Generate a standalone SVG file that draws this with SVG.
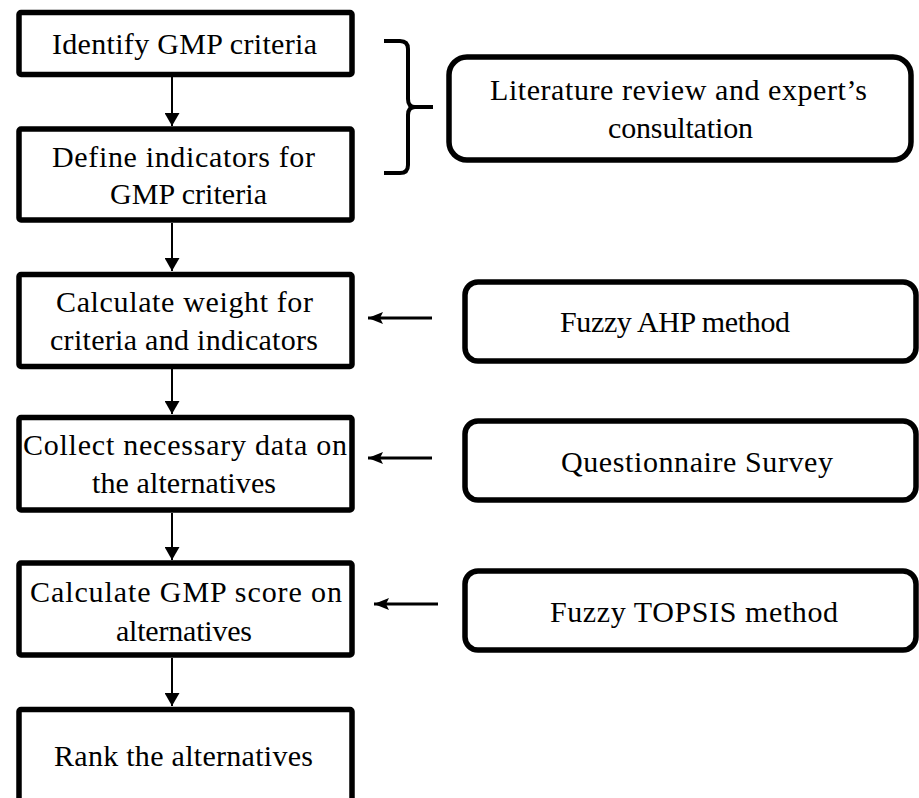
<svg xmlns="http://www.w3.org/2000/svg" width="919" height="798" viewBox="0 0 919 798">
<style>
.box{fill:#fff;stroke:#000;stroke-width:5.5}
.rbox{fill:#fff;stroke:#000;stroke-width:5.5}
.t{font-family:"Liberation Serif","Times New Roman",serif;font-size:30px;fill:#000}
.v{stroke:#000;stroke-width:2;fill:none}
.h{stroke:#000;stroke-width:3;fill:none}
.brace{stroke:#000;stroke-width:4;fill:none;stroke-linejoin:round}
</style>
<defs>
<marker id="ahv" viewBox="0 0 13 15" refX="13" refY="7.5" markerWidth="13" markerHeight="15" orient="auto" markerUnits="userSpaceOnUse"><path d="M0,0 L13,7.5 L0,15 z" fill="#000"/></marker>
<marker id="ahh" viewBox="0 0 15 12" refX="15" refY="6" markerWidth="15" markerHeight="12" orient="auto" markerUnits="userSpaceOnUse"><path d="M0,0 L15,6 L0,12 L3,6 z" fill="#000"/></marker>
</defs>
<rect width="919" height="798" fill="#fff"/>
<g id="n1"><rect class="box" x="19" y="12.5" width="333" height="62" rx="2"/>
<text class="t" x="52" y="54" textLength="265">Identify GMP criteria</text></g>
<g id="n2"><rect class="box" x="19" y="129" width="333" height="91" rx="2"/>
<text class="t" x="52" y="167" textLength="263">Define indicators for</text>
<text class="t" x="110" y="204" textLength="157">GMP criteria</text></g>
<g id="n3"><rect class="box" x="19" y="274.5" width="333" height="92" rx="2"/>
<text class="t" x="56" y="312" textLength="257">Calculate weight for</text>
<text class="t" x="50" y="350" textLength="268">criteria and indicators</text></g>
<g id="n4"><rect class="box" x="19" y="417.5" width="333" height="92.5" rx="2"/>
<text class="t" x="23" y="455" textLength="324">Collect necessary data on</text>
<text class="t" x="92" y="493" textLength="184">the alternatives</text></g>
<g id="n5"><rect class="box" x="19" y="563" width="333" height="92" rx="2"/>
<text class="t" x="30" y="602" textLength="312">Calculate GMP score on</text>
<text class="t" x="116" y="641" textLength="136">alternatives</text></g>
<g id="n6"><rect class="box" x="19" y="709.5" width="333" height="100" rx="2"/>
<text class="t" x="54" y="766" textLength="259">Rank the alternatives</text></g>
<g id="r1"><rect class="rbox" x="449" y="57" width="462" height="103" rx="18"/>
<text class="t" x="490" y="100" textLength="377">Literature review and expert’s</text>
<text class="t" x="608" y="138" textLength="145">consultation</text></g>
<g id="r2"><rect class="rbox" x="465" y="282" width="451" height="79" rx="13"/>
<text class="t" x="560" y="332" textLength="230">Fuzzy AHP method</text></g>
<g id="r3"><rect class="rbox" x="465" y="421" width="451" height="79" rx="13"/>
<text class="t" x="561" y="472" textLength="272">Questionnaire Survey</text></g>
<g id="r4"><rect class="rbox" x="465" y="571" width="451" height="79" rx="13"/>
<text class="t" x="550" y="622" textLength="288">Fuzzy TOPSIS method</text></g>
<g id="connectors">
<line class="v" x1="172" y1="77" x2="172" y2="126" marker-end="url(#ahv)"/>
<line class="v" x1="172" y1="223" x2="172" y2="271" marker-end="url(#ahv)"/>
<line class="v" x1="172" y1="369" x2="172" y2="414" marker-end="url(#ahv)"/>
<line class="v" x1="172" y1="513" x2="172" y2="560" marker-end="url(#ahv)"/>
<line class="v" x1="172" y1="658" x2="172" y2="706" marker-end="url(#ahv)"/>
<line class="h" x1="432" y1="318" x2="368" y2="318" marker-end="url(#ahh)"/>
<line class="h" x1="432" y1="458" x2="368" y2="458" marker-end="url(#ahh)"/>
<line class="h" x1="438" y1="604" x2="374" y2="604" marker-end="url(#ahh)"/>
<path class="brace" d="M384 41 H400 Q408 41 408 49 V99 Q408 107 415 107 H433 M415 107 Q408 107 408 115 V165 Q408 173 400 173 H384"/>
</g>
</svg>
